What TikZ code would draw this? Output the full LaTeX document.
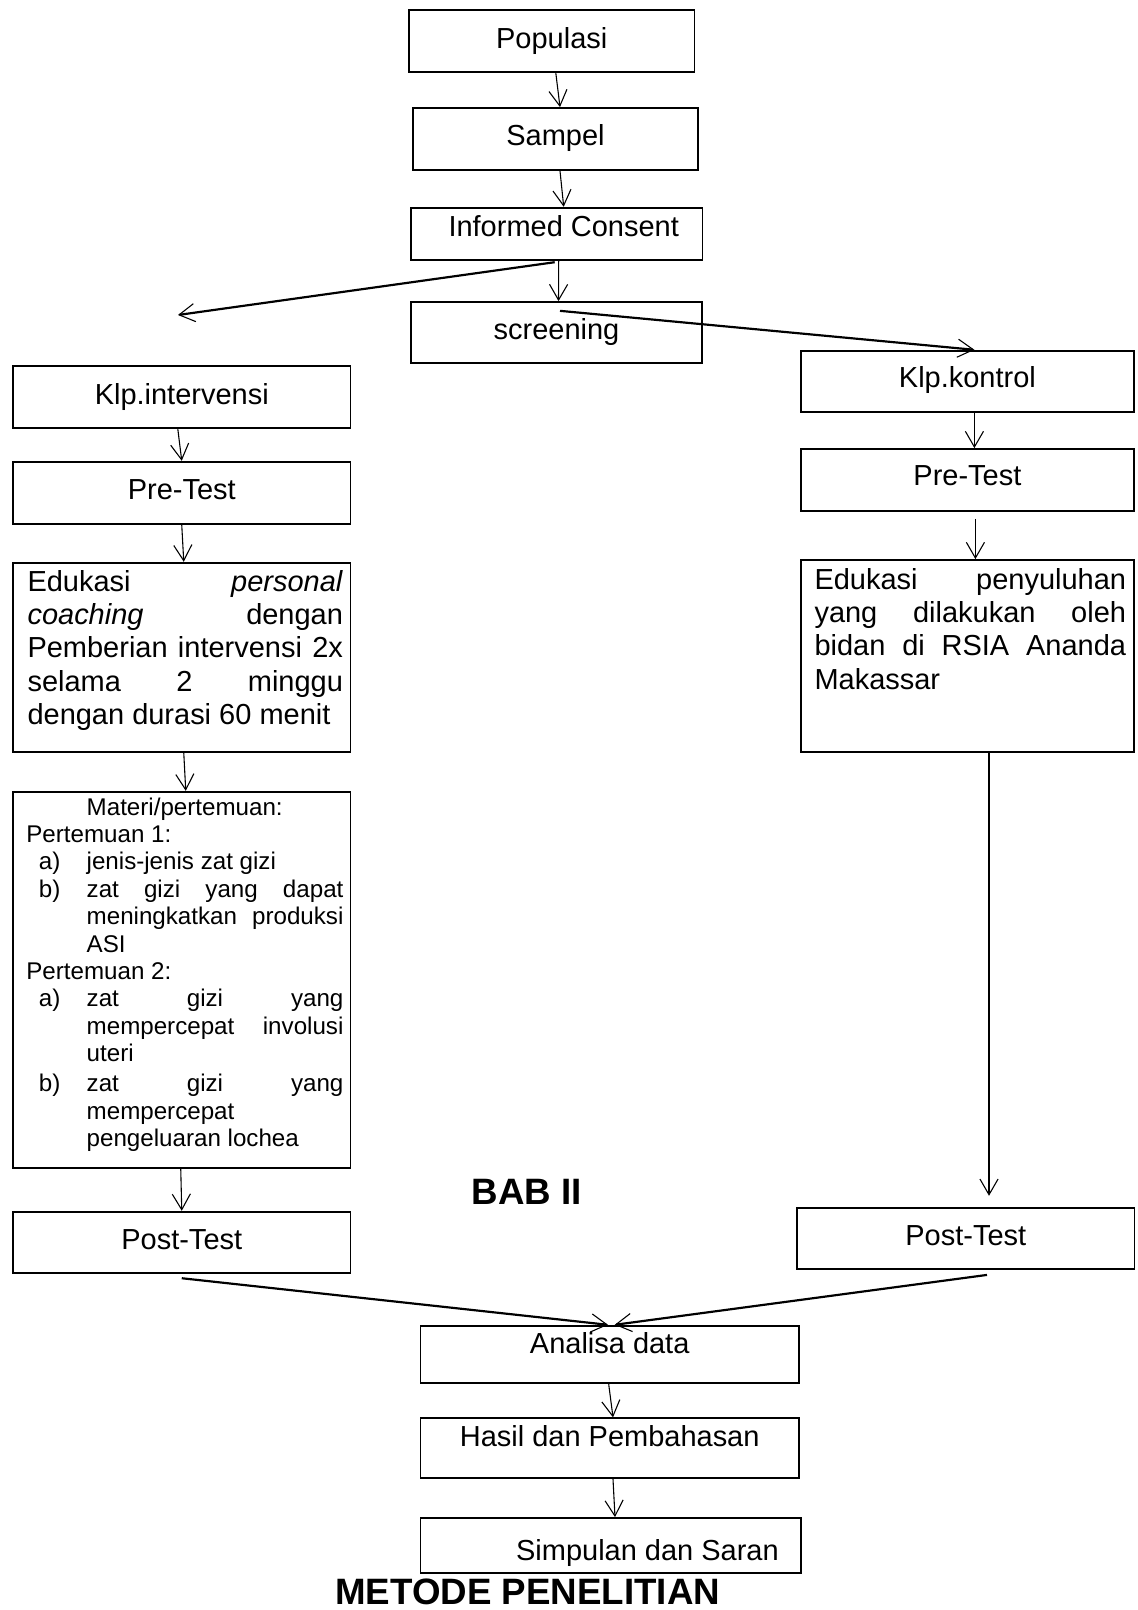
\documentclass[tikz,border=0pt]{standalone}
\usepackage{fontspec}
\setmainfont{Liberation Sans}
\usetikzlibrary{arrows.meta,calc}
\hbadness=10000

% kotak: lebar, tinggi teks (atas s/d baseline), sisa ke bawah
\tikzset{
  kotak/.style n args={3}{draw, rectangle, line width=0.75pt, inner sep=0pt,
    minimum width=#1, text height=#2, text depth=#3},
  panah/.style={line width=0.45pt, -{Straight Barb[length=6.5pt,width=7.5pt,line width=0.45pt]}},
  panahtebal/.style={panah, line width=0.9pt},
  judul/.style={font=\fontsize{15.2}{18}\selectfont\bfseries, anchor=base, inner sep=0pt}
}
\newcommand{\butir}[2]{\par\hangindent=25pt\hangafter=1\noindent\makebox[25pt][l]{\hspace{5.2pt}#1}#2\par}

\begin{document}
\begin{tikzpicture}[x=0.414pt, y=-0.414pt, font=\fontsize{12}{13.8}\selectfont]
  \useasboundingbox (0,0) rectangle (1138,1610);

  % alur atas
  \node[kotak={118.2pt}{15.86pt}{9.69pt}] (pop) at (551.75,40.85) {Populasi};
  \node[kotak={118pt}{15.61pt}{10.06pt}] (samp) at (555.5,139) {Sampel};
  \node[kotak={120.7pt}{12.01pt}{9.77pt}] (ic) at (556.7,234) {\hspace*{5.8pt}Informed Consent};
  \node[kotak={120.5pt}{15.32pt}{10.06pt}] (scr) at (556.5,332.7) {screening};

  % kelompok intervensi
  \node[kotak={139.7pt}{15.86pt}{9.81pt}] (intv) at (181.75,396.7) {Klp.intervensi};
  \node[kotak={139.7pt}{15.57pt}{10.23pt}] (preL) at (181.75,492.85) {Pre-Test};
  \node[kotak={139.7pt}{11.72pt}{66.53pt}, text width=139.7pt, align=justify] (eduL) at (181.75,657.2)
    {\leftskip=6pt\rightskip=3.1pt Edukasi \textit{personal}\linebreak \textit{coaching} dengan\linebreak
     Pemberian intervensi 2x\linebreak selama 2 minggu\linebreak dengan durasi 60 menit\par};
  \node[kotak={139.7pt}{9.65pt}{146.1pt}, text width=139.7pt, align=justify,
        font=\fontsize{10}{11.35}\selectfont] (materi) at (181.75,979.85)
    {\leftskip=5.5pt\rightskip=2.9pt
     \hspace*{25pt}Materi/pertemuan:\par
     \noindent Pertemuan 1:\par
     \butir{a)}{jenis-jenis zat gizi}
     \butir{b)}{zat gizi yang dapat\linebreak meningkatkan produksi\linebreak ASI}
     \noindent Pertemuan 2:\par
     \butir{a)}{zat gizi yang\linebreak mempercepat involusi\linebreak uteri}
     \vspace{1pt}
     \butir{b)}{zat gizi yang\linebreak mempercepat\linebreak pengeluaran lochea}};
  \node[kotak={139.7pt}{15.57pt}{9.69pt}] (postL) at (181.75,1242.2) {Post-Test};

  % kelompok kontrol
  \node[kotak={138pt}{15.44pt}{9.94pt}] (kontrol) at (967.4,381.35) {Klp.kontrol};
  \node[kotak={138pt}{15.32pt}{10.23pt}] (preR) at (967.4,479.85) {Pre-Test};
  \node[kotak={138pt}{12.01pt}{67.36pt}, text width=138pt, align=justify] (eduR) at (967.4,655.85)
    {\leftskip=5.7pt\rightskip=3.3pt Edukasi penyuluhan\linebreak yang dilakukan oleh\linebreak
     bidan di RSIA Ananda\linebreak Makassar\par};
  \node[kotak={139.7pt}{15.48pt}{9.77pt}] (postR) at (965.8,1238.8) {Post-Test};

  % alur bawah
  \node[kotak={156.7pt}{11.43pt}{12.42pt}] (analisa) at (609.7,1354.5) {Analisa data};
  \node[kotak={156.7pt}{11.76pt}{13.08pt}] (hasil) at (609.7,1448.3) {Hasil dan Pembahasan};
  \node[kotak={157.4pt}{17.39pt}{5.38pt}] (simp) at (610.5,1545.5) {\hspace*{30.6pt}Simpulan dan Saran};

  \node[judul] (bab) at (527,1204) {BAB II};
  \node[judul] (metode) at (527.6,1604) {METODE PENELITIAN};

  % panah
  \draw[panah] ($(pop.south)+(4,0)$) -- ($(samp.north)+(4.5,0)$);
  \draw[panah] ($(samp.south)+(4.5,0)$) -- ($(ic.north)+(7,0)$);
  \draw[panah] ($(ic.south)+(2,0)$) -- ($(scr.north)+(2,0)$);
  \coordinate (kiri) at (178,315);
  \draw[panahtebal] ($(ic.south)+(-2,1)$) -- (kiri);
  \draw[panahtebal] ($(scr.north)+(3.5,9.7)$) -- ($(kontrol.north)+(7,0)$);

  \draw[panah] ($(intv.south)+(-4,0)$) -- (preL.north);
  \draw[panah] (preL.south) -- ($(eduL.north)+(2,0)$);
  \draw[panah] ($(eduL.south)+(2,0)$) -- ($(materi.north)+(4,0)$);
  \draw[panah] ($(materi.south)+(-1,0)$) -- (postL.north);

  \draw[panah] ($(kontrol.south)+(7,0)$) -- ($(preR.north)+(7,0)$);
  \draw[panah] ($(preR.south)+(8,7.3)$) -- ($(eduR.north)+(8,0)$);
  \draw[panah] ($(eduR.south)+(21.6,0)$) -- ($(postR.north)+(23.2,-11.6)$);

  \draw[panahtebal] ($(postL.south)+(0,4.6)$) -- ($(analisa.north)+(-1.7,0)$);
  \draw[panahtebal] ($(postR.south)+(21.2,4.7)$) -- ($(analisa.north)+(5,0)$);
  \draw[panah] ($(analisa.south)+(-1,0)$) -- ($(hasil.north)+(3.3,0)$);
  \draw[panah] ($(hasil.south)+(3.3,0)$) -- ($(simp.north)+(4.5,0)$);
\end{tikzpicture}
\end{document}
